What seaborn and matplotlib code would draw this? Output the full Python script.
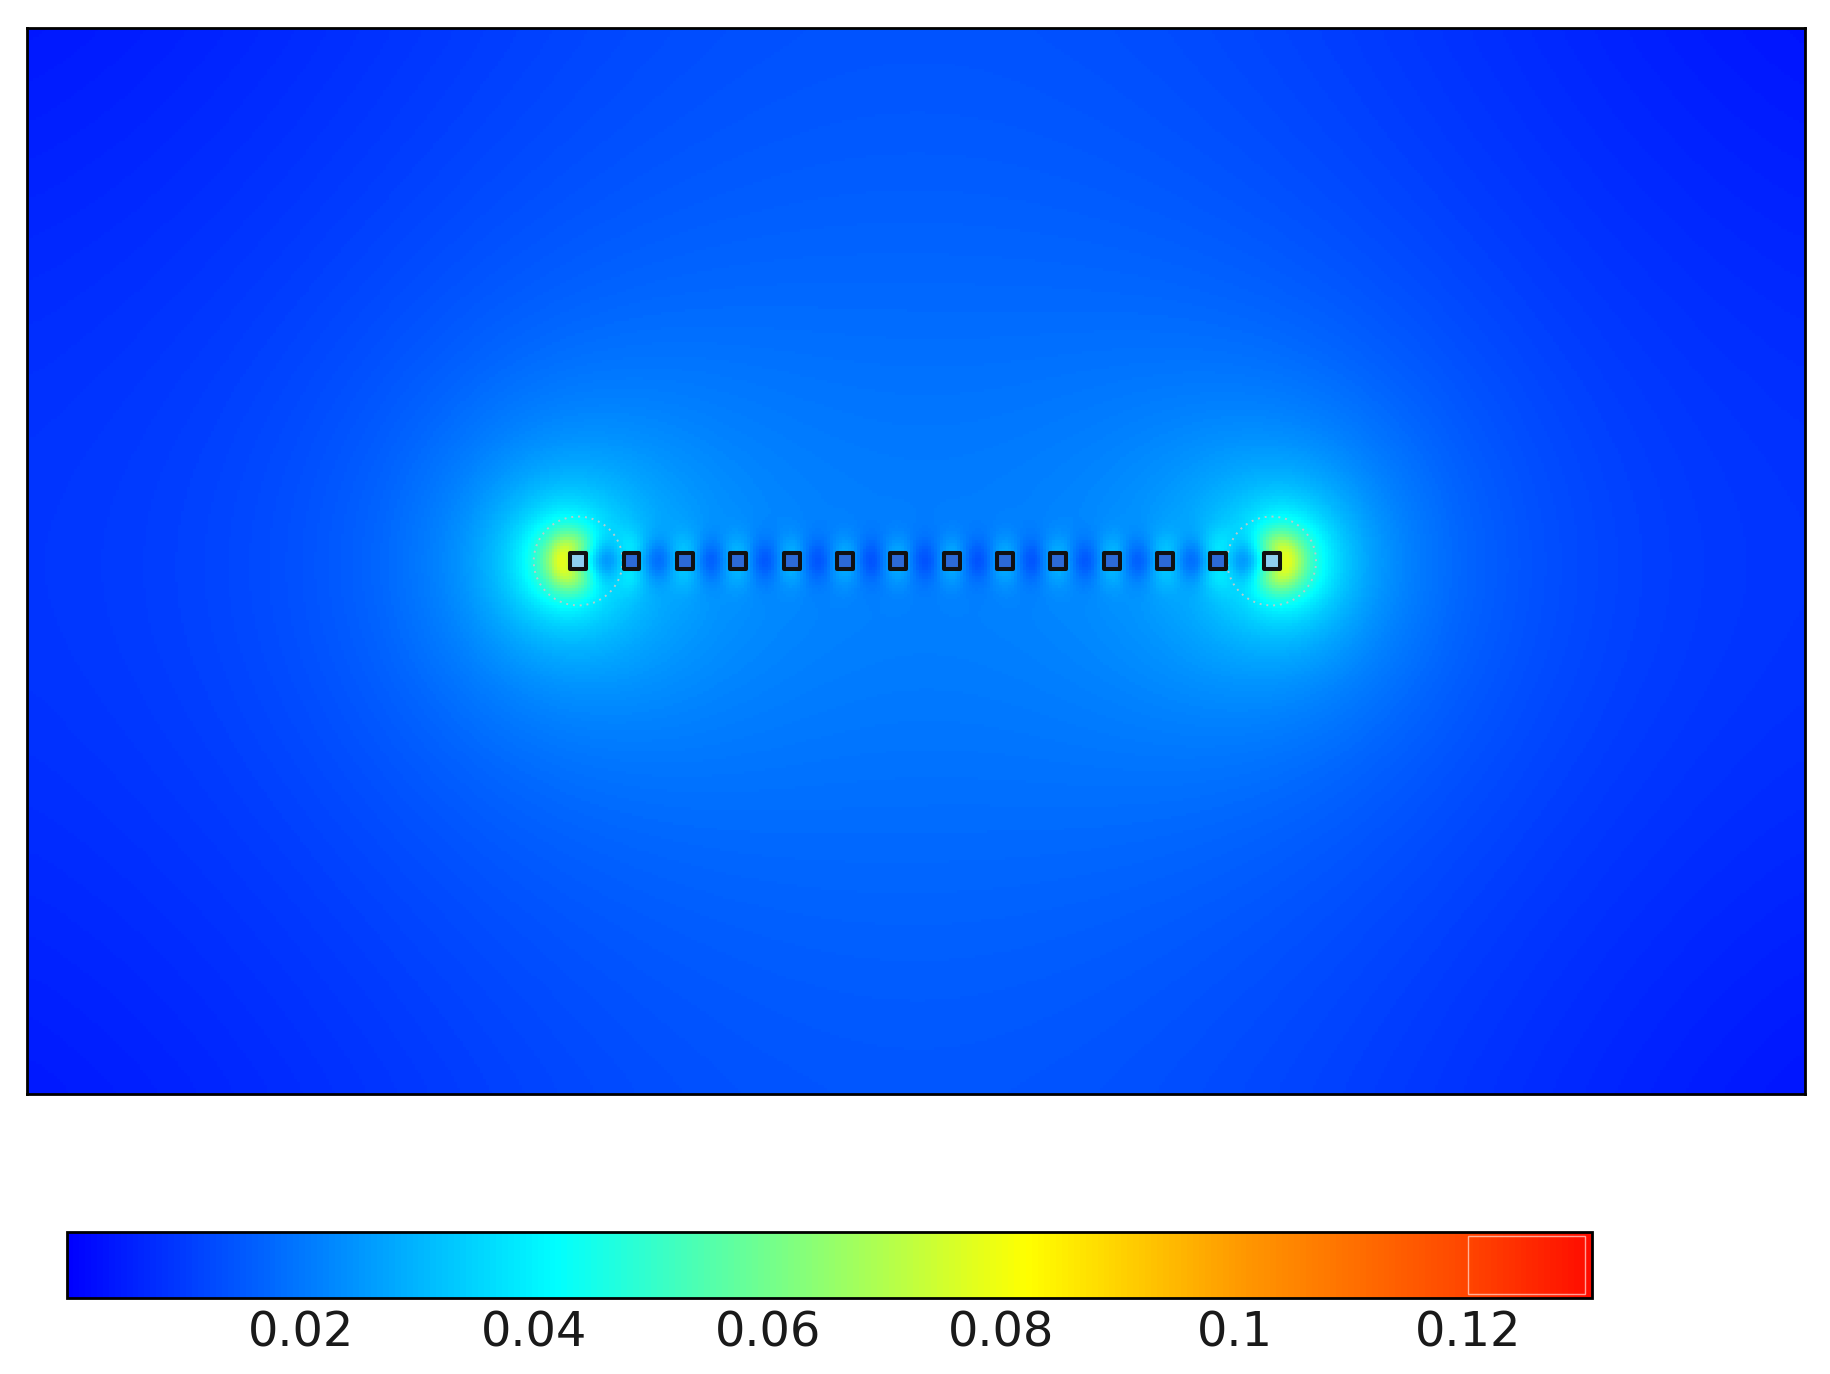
import numpy as np
import matplotlib
matplotlib.use("Agg")
import matplotlib.pyplot as plt
import seaborn as sns
from matplotlib.colors import LinearSegmentedColormap
from matplotlib.patches import Circle, Rectangle

# ---------------- data ----------------
domain_w = 20.0          # simulation box width (arbitrary length units)
domain_h = 12.0          # simulation box height
electrode_x = [6.2, 6.8, 7.4, 8.0, 8.6, 9.2, 9.8, 10.4, 11.0, 11.6, 12.2, 12.8, 13.4, 14.0]
electrode_y = [6.0] * 14
electrode_half = 0.1125  # half side of each square electrode
top_wall_value = 0.014   # field value read at the centre of the top wall
peak_value = 0.13        # largest value shown next to the end electrodes
inside_value = 0.035     # value shown inside the electrodes
cbar_min = 0.0
cbar_max = 0.1306
cbar_ticks = [0.02, 0.04, 0.06, 0.08, 0.10, 0.12]
cbar_labels = ["0.02", "0.04", "0.06", "0.08", "0.1", "0.12"]
cmap_nodes = [0.0, 0.153, 0.32, 0.46, 0.63, 0.77, 0.92, 1.0]
cmap_colors = [(0, 0, 1), (0, 0.47, 1), (0, 1, 1), (0.45, 1, 0.55),
               (1, 1, 0), (1, 0.6, 0), (1, 0.27, 0), (1, 0.05, 0)]

# ---------------- electrostatic field (grounded box, equipotential electrodes) ----------------
ex = np.array(electrode_x) - domain_w / 2
ey = np.array(electrode_y) - domain_h / 2
ez = ex + 1j * ey
ne = len(ez)

nq = 12
ang = 2 * np.pi * (np.arange(nq) + 0.5) / nq
qz = (ez[:, None] + 0.07 * np.exp(1j * ang)[None, :]).ravel()

t = np.linspace(-electrode_half, electrode_half, 6)[:-1]
h = electrode_half
perim = np.concatenate([t - 1j * h, h + 1j * t, -t + 1j * h, -h - 1j * t])
cz = (ez[:, None] + perim[None, :]).ravel()

M = 2
W, H = domain_w, domain_h


def images(z0):
    x0, y0 = z0.real, z0.imag
    pos, sgn = [], []
    for m in range(-M, M + 1):
        for n in range(-M, M + 1):
            pos += [2 * m * W + x0 + 1j * (2 * n * H + y0),
                    (2 * m + 1) * W - x0 + 1j * (2 * n * H + y0),
                    2 * m * W + x0 + 1j * ((2 * n + 1) * H - y0),
                    (2 * m + 1) * W - x0 + 1j * ((2 * n + 1) * H - y0)]
            sgn += [1, -1, -1, 1]
    return np.array(pos), np.array(sgn, float)


A = np.zeros((len(cz), len(qz)))
for k, q in enumerate(qz):
    p, s = images(q)
    A[:, k] = -(s[None, :] * np.log(np.abs(cz[:, None] - p[None, :]))).sum(1)
coef, *_ = np.linalg.lstsq(A, np.ones(len(cz)), rcond=None)
Qe = coef.reshape(ne, nq).sum(1)

nx, ny = 600, 360
xs = (np.arange(nx) + 0.5) / nx * W - W / 2
ys = H / 2 - (np.arange(ny) + 0.5) / ny * H
Z = xs[None, :] + 1j * ys[:, None]


def efield(Zp):
    E = np.zeros(Zp.shape, complex)
    for k, q in enumerate(qz):
        E += coef[k] / (Zp - q)
    for e in range(ne):
        p, s = images(ez[e])
        for pp, ss in zip(p[1:], s[1:]):
            E += Qe[e] * ss / (Zp - pp)
    return np.abs(E)


raw = efield(Z)
ref = efield(np.array([0.0 + 1j * (H / 2 - 1e-3)]))[0]
field = raw * (top_wall_value / ref)

# conductor interiors, then the smoothing of a coarse finite-element mesh
inside = np.zeros(field.shape, bool)
for e in range(ne):
    inside |= (np.abs(Z.real - ex[e]) < electrode_half) & (np.abs(Z.imag - ey[e]) < electrode_half)
field = np.where(inside, inside_value, np.minimum(field, peak_value))


def gblur(a, sigma):
    r = int(3 * sigma)
    k = np.exp(-0.5 * (np.arange(-r, r + 1) / sigma) ** 2)
    k /= k.sum()
    ap = np.pad(a, r, mode="edge")
    ap = np.apply_along_axis(lambda v: np.convolve(v, k, "valid"), 1, ap)
    ap = np.apply_along_axis(lambda v: np.convolve(v, k, "valid"), 0, ap)
    return ap


field = gblur(field, 3.2)

# ---------------- plot ----------------
sns.set_style("white")
plt.rcParams["font.family"] = ["DejaVu Sans"]
cmap = LinearSegmentedColormap.from_list("comsol", list(zip(cmap_nodes, cmap_colors)))

fig = plt.figure(figsize=(18.3, 13.74), dpi=100)
ax = fig.add_axes([27 / 1830, 1 - 1094 / 1374, 1778 / 1830, 1066 / 1374])
cax = fig.add_axes([67 / 1830, 1 - 1298 / 1374, 1525 / 1830, 66 / 1374])

sns.heatmap(field, ax=ax, cmap=cmap, vmin=cbar_min, vmax=cbar_max,
            xticklabels=False, yticklabels=False, cbar_ax=cax,
            cbar_kws={"orientation": "horizontal", "ticks": cbar_ticks},
            rasterized=True)

cpu = nx / W
col = np.array(electrode_x) * cpu
row = (H - np.array(electrode_y)) * cpu
faces = ["#8fcff0" if i in (0, ne - 1) else "#2c6ad6" for i in range(ne)]
ax.scatter(col, row, s=132, marker="s", facecolors=faces, edgecolors="#111111",
           linewidths=2.9, zorder=5)
for i in (0, ne - 1):
    ax.add_patch(Circle((col[i], row[i]), 0.5 * cpu, fill=False, ls=(0, (1, 2.5)),
                        ec="#c8c8c8", lw=1.4, alpha=0.9, zorder=4))

for sp in ax.spines.values():
    sp.set_visible(True)
    sp.set_color("black")
    sp.set_linewidth(2)

cbar = ax.collections[0].colorbar
cbar.set_ticks(cbar_ticks)
cbar.set_ticklabels(cbar_labels)
cbar.outline.set_visible(True)
cbar.outline.set_edgecolor("black")
cbar.outline.set_linewidth(2)
cax.tick_params(axis="x", direction="in", length=9, width=1.6, top=True, bottom=True,
                labeltop=False, labelbottom=True, labelsize=34.5, pad=8, colors="black",
                labelcolor="#1a1a1a")
cax.add_patch(Rectangle((0.12, 0.06), cbar_max - 0.12 - 0.0006, 0.88, fill=False,
                        ec="white", lw=1.0, alpha=0.6, zorder=5))

fig.savefig("out.png", dpi=100, facecolor="white")
